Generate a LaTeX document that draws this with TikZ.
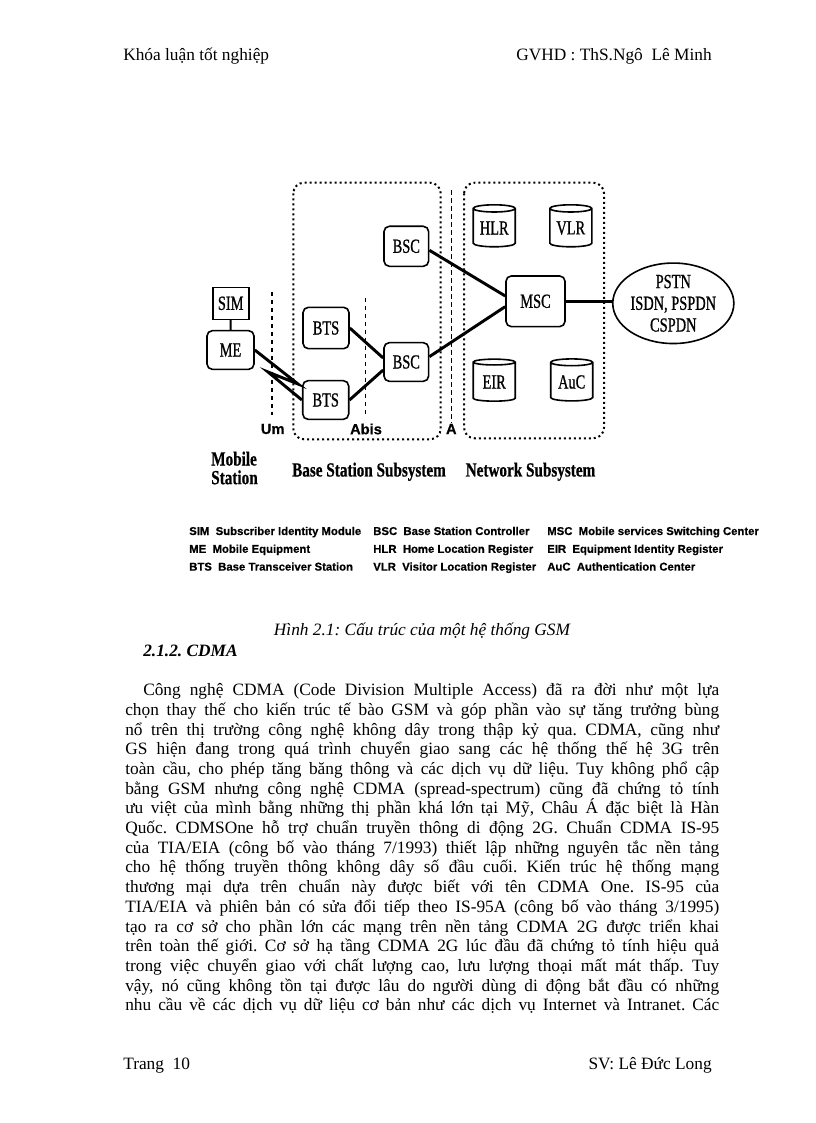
\documentclass[tikz,border=0pt]{standalone}
\usepackage{fontspec}
\setmainfont{Liberation Serif}
\newfontfamily\diafont[FakeStretch=0.72,FakeBold=0.8]{Liberation Serif}
\newfontfamily\grpfont[FakeStretch=0.76,FakeBold=0.6]{Liberation Serif}
\newfontfamily\keyfont[FakeBold=0.5]{Liberation Sans}
\usetikzlibrary{shapes.geometric,positioning}
\newcommand\bodyline[1]{\hbox to\hsize{#1}}
\frenchspacing
\tikzset{
  box/.style={draw,line width=1.2pt,rounded corners=4pt,minimum width=34.5pt,
    minimum height=30pt,inner sep=1pt,font=\diafont\fontsize{15}{16}\selectfont},
  simbox/.style={draw,line width=1.2pt,minimum width=27pt,minimum height=24pt,
    inner sep=1pt,font=\diafont\fontsize{15}{16}\selectfont},
  db/.style={cylinder,shape border rotate=90,draw,line width=1.2pt,aspect=0.25,
    minimum width=31.5pt,minimum height=31.5pt,inner sep=0pt,
    font=\diafont\fontsize{15}{16}\selectfont},
  net/.style={ellipse,draw,line width=1.2pt,minimum width=85pt,minimum height=57.5pt,
    inner sep=0pt,align=center,font=\diafont\fontsize{15}{16.3}\selectfont},
  link/.style={line width=2.2pt},
  zone/.style={line width=1.5pt,dash pattern=on 1.5pt off 2.25pt,rounded corners=8pt},
  iface/.style={line width=1pt,dash pattern=on 3.5pt off 2.5pt},
  ifacelbl/.style={inner sep=0pt,font=\keyfont\bfseries\fontsize{11}{12}\selectfont},
  grplbl/.style={inner sep=0pt,align=left,font=\grpfont\bfseries\fontsize{15}{15}\selectfont},
  keytext/.style={anchor=base west,inner sep=0pt,font=\keyfont\bfseries\fontsize{8.5}{10}\selectfont},
  pagetext/.style={inner sep=0pt,font=\fontsize{13}{14.78}\selectfont},
}
\begin{document}
\begin{tikzpicture}[x=0.75pt,y=-0.75pt]
  \useasboundingbox (0,0) rectangle (816,1123);
  % page header and footer
  \node[pagetext,anchor=base west] (hdrL) at (123,61) {Khóa luận tốt nghiệp};
  \node[pagetext,anchor=base east] (hdrR) at (712,61) {GVHD~: ThS.Ngô~~Lê Minh};
  \node[pagetext,anchor=base west] (ftrL) at (123,1069) {Trang~~10};
  \node[pagetext,anchor=base east] (ftrR) at (712,1069) {SV: Lê Đức Long};

  % subsystems
  \draw[zone] (293.3,182.7) rectangle (440.7,439.3);
  \draw[zone] (464,182.7) rectangle (604,438.3);
  \draw[iface] (272,291.7) -- (272,415);
  \draw[iface] (365.3,297.7) -- (365.3,415);
  \draw[iface] (451.5,190) -- (451.5,423);
  \node[ifacelbl] (um) at (272.7,429) {Um};
  \node[ifacelbl] (abis) at (366,429) {Abis};
  \node[ifacelbl] (aif) at (451.3,429) {A};

  \node[simbox] (sim) at (230.7,303.3) {SIM};
  \node[box,minimum width=35.25pt,minimum height=29pt] (me) at (230.5,350) {ME};
  \node[box,minimum height=31pt] (bts1) at (326,328) {BTS};
  \node[box,minimum height=29pt] (bts2) at (325.7,400) {BTS};
  \node[box,minimum width=33.5pt] (bsc1) at (406.3,246.3) {BSC};
  \node[box,minimum width=33.5pt,minimum height=29pt] (bsc2) at (406.3,362) {BSC};
  \node[box,minimum width=44.25pt,minimum height=38pt] (msc) at (535.5,301.3) {MSC};
  \node[db] (hlr) at (494.2,228) {HLR};
  \node[db] (vlr) at (570.8,228) {VLR};
  \node[db] (eir) at (494.2,382) {EIR};
  \node[db] (auc) at (571.7,382) {AuC};
  \node[net] (pstn) at (673.3,303.3) {PSTN\\ISDN, PSPDN\\CSPDN};

  \coordinate (bolt1) at (298,384);
  \coordinate (bolt2) at (268,372);
  \draw[line width=1.5pt] (sim) -- (me);
  \draw[link] (me.east) -- (bolt1) -- (bolt2) -- (bts2.west);
  \draw[link] (bts1.east) -- ([yshift=3pt]bsc2.west);
  \draw[link] (bts2.east) -- ([yshift=-6pt]bsc2.west);
  \draw[link] ([yshift=-3pt]bsc1.east) -- ([yshift=4pt]msc.west);
  \draw[link] ([yshift=4pt]bsc2.east) -- ([yshift=-4pt]msc.west);
  \draw[link] (msc.east) -- (msc.east -| pstn.west);

  \node[grplbl,anchor=west] (ms) at (211,468) {Mobile\\[-1pt]Station};
  \node[grplbl] (bss) at (369,471.7) {Base Station Subsystem};
  \node[grplbl] (nss) at (530.5,471.7) {Network Subsystem};

  % legend
  \foreach \abbr/\desc [count=\r] in {SIM/Subscriber Identity Module,ME/Mobile Equipment,BTS/Base Transceiver Station}
    \node[keytext] (keya\r) at (189,{535+(\r-1)*17.8}) {\abbr~~\desc};
  \foreach \abbr/\desc [count=\r] in {BSC/Base Station Controller,HLR/Home Location Register,VLR/Visitor Location Register}
    \node[keytext] (keyb\r) at (373,{535+(\r-1)*17.8}) {\abbr~~\desc};
  \foreach \abbr/\desc [count=\r] in {MSC/Mobile services Switching Center,EIR/Equipment Identity Register,AuC/Authentication Center}
    \node[keytext] (keyc\r) at (547,{535+(\r-1)*17.8}) {\abbr~~\desc};

  % caption and text
  \node[pagetext,anchor=base] (caption) at (422,635) {\itshape Hình 2.1: Cấu trúc của một hệ thống GSM};
  \node[pagetext,anchor=base west] (sect) at (143,656) {\bfseries\itshape 2.1.2. CDMA};
  \node[pagetext,anchor=base west] (body) at (125,695.6) {\vtop{\hsize=445.5pt\baselineskip=14.78pt
    \bodyline{\kern13.5pt Công nghệ CDMA (Code Division Multiple Access) đã ra đời như một lựa}
    \bodyline{chọn thay thế cho kiến trúc tế bào GSM và góp phần vào sự tăng trưởng bùng}
    \bodyline{nổ trên thị trường công nghệ không dây trong thập kỷ qua. CDMA, cũng như}
    \bodyline{GS hiện đang trong quá trình chuyển giao sang các hệ thống thế hệ 3G trên}
    \bodyline{toàn cầu, cho phép tăng băng thông và các dịch vụ dữ liệu. Tuy không phổ cập}
    \bodyline{bằng GSM nhưng công nghệ CDMA (spread-spectrum) cũng đã chứng tỏ tính}
    \bodyline{ưu việt của mình bằng những thị phần khá lớn tại Mỹ, Châu Á đặc biệt là Hàn}
    \bodyline{Quốc. CDMSOne hỗ trợ chuẩn truyền thông di động 2G. Chuẩn CDMA IS-95}
    \bodyline{của TIA/EIA (công bố vào tháng 7/1993) thiết lập những nguyên tắc nền tảng}
    \bodyline{cho hệ thống truyền thông không dây số đầu cuối. Kiến trúc hệ thống mạng}
    \bodyline{thương mại dựa trên chuẩn này được biết với tên CDMA One. IS-95 của}
    \bodyline{TIA/EIA và phiên bản có sửa đổi tiếp theo IS-95A (công bố vào tháng 3/1995)}
    \bodyline{tạo ra cơ sở cho phần lớn các mạng trên nền tảng CDMA 2G được triển khai}
    \bodyline{trên toàn thế giới. Cơ sở hạ tầng CDMA 2G lúc đầu đã chứng tỏ tính hiệu quả}
    \bodyline{trong việc chuyển giao với chất lượng cao, lưu lượng thoại mất mát thấp. Tuy}
    \bodyline{vậy, nó cũng không tồn tại được lâu do người dùng di động bắt đầu có những}
    \bodyline{nhu cầu về các dịch vụ dữ liệu cơ bản như các dịch vụ Internet và Intranet. Các}}};
\end{tikzpicture}
\end{document}
